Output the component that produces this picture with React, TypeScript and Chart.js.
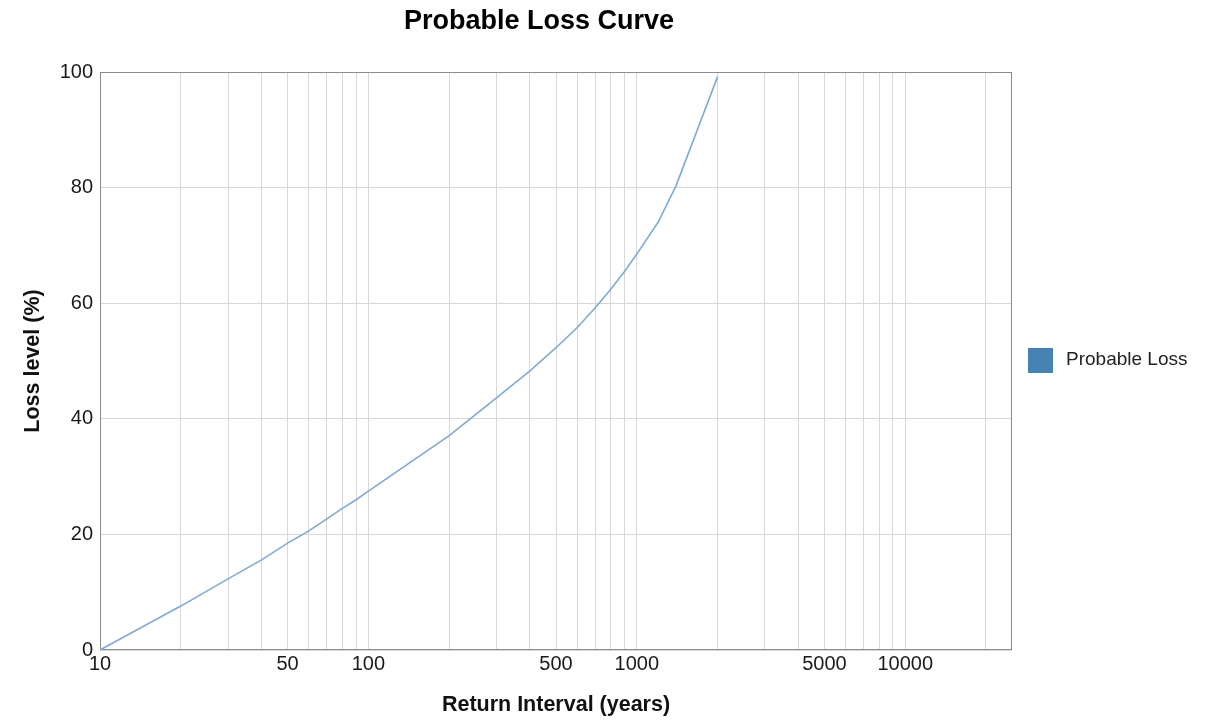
import React, { useEffect, useRef } from 'react';
import { Chart, registerables } from 'chart.js';

Chart.register(...registerables);

const chartTitle = 'Probable Loss Curve';
const xAxisTitle = 'Return Interval (years)';
const yAxisTitle = 'Loss level (%)';
const seriesName = 'Probable Loss';

const returnIntervals = [10, 20, 30, 40, 50, 60, 70, 80, 90, 100, 200, 300, 400, 500, 600, 700, 800, 900, 1000, 1200, 1400, 2000];
const lossLevels = [0, 7.6, 12.3, 15.6, 18.5, 20.6, 22.7, 24.5, 26.0, 27.5, 37.1, 43.6, 48.3, 52.3, 55.8, 59.2, 62.4, 65.5, 68.5, 74.0, 80.3, 99.2];

const xGridValues = [
  10, 20, 30, 40, 50, 60, 70, 80, 90,
  100, 200, 300, 400, 500, 600, 700, 800, 900,
  1000, 2000, 3000, 4000, 5000, 6000, 7000, 8000, 9000,
  10000, 20000,
];
const xTickLabels = [10, 50, 100, 500, 1000, 5000, 10000];
const xMin = 10;
const xMax = 25000;
const yMin = 0;
const yMax = 100;
const yStep = 20;

const FONT = '"Liberation Sans", Arial, sans-serif';
const LINE_COLOR = '#7eaad3';
const LEGEND_COLOR = '#4682b4';

export default function App() {
  const canvasRef = useRef<HTMLCanvasElement | null>(null);

  useEffect(() => {
    const canvas = canvasRef.current;
    if (!canvas) return;

    const titlePlugin = {
      id: 'customTitle',
      afterDraw(chart: any) {
        const ctx = chart.ctx;
        ctx.save();
        ctx.font = `bold 27px ${FONT}`;
        ctx.fillStyle = '#000';
        ctx.textAlign = 'center';
        ctx.textBaseline = 'middle';
        ctx.fillText(chartTitle, 539, 22);
        ctx.restore();
      },
    };

    const framePlugin = {
      id: 'frame',
      beforeDatasetsDraw(chart: any) {
        const { ctx, chartArea } = chart;
        ctx.save();
        ctx.strokeStyle = '#8c8c8c';
        ctx.lineWidth = 1;
        ctx.strokeRect(chartArea.left + 0.5, chartArea.top + 0.5, chartArea.right - chartArea.left - 1, chartArea.bottom - chartArea.top - 1);
        ctx.restore();
      },
    };

    const legendPlugin = {
      id: 'customLegend',
      afterDraw(chart: any) {
        const { ctx, chartArea } = chart;
        const cy = (chartArea.top + chartArea.bottom) / 2;
        const x = chartArea.right + 16;
        ctx.save();
        ctx.fillStyle = LEGEND_COLOR;
        ctx.fillRect(x, cy - 13, 25, 25);
        ctx.font = `19px ${FONT}`;
        ctx.fillStyle = '#222';
        ctx.textAlign = 'left';
        ctx.textBaseline = 'middle';
        ctx.fillText(seriesName, x + 38, cy - 1);
        ctx.restore();
      },
    };

    const chart = new Chart(canvas, {
      type: 'line',
      data: {
        datasets: [
          {
            label: seriesName,
            data: returnIntervals.map((x, i) => ({ x, y: lossLevels[i] })),
            borderColor: LINE_COLOR,
            backgroundColor: LEGEND_COLOR,
            borderWidth: 1.6,
            pointRadius: 0,
            tension: 0,
            fill: false,
          },
        ],
      },
      options: {
        animation: false,
        responsive: true,
        maintainAspectRatio: false,
        layout: { padding: { top: 72, right: 196, left: 0, bottom: 0 } },
        plugins: {
          legend: { display: false },
          title: { display: false },
          tooltip: { enabled: false },
        },
        scales: {
          x: {
            type: 'logarithmic',
            min: xMin,
            max: xMax,
            afterBuildTicks: (scale: any) => {
              scale.ticks = xGridValues.map((v) => ({ value: v }));
            },
            afterFit: (scale: any) => {
              scale.height = 71;
            },
            grid: { color: '#d8d8d8', lineWidth: 1, drawTicks: false },
            border: { display: false },
            ticks: {
              autoSkip: false,
              maxRotation: 0,
              minRotation: 0,
              padding: 2,
              color: '#1a1a1a',
              font: { family: FONT, size: 20 },
              callback: (value: any) => (xTickLabels.includes(Number(value)) ? String(value) : ''),
            },
            title: {
              display: true,
              text: xAxisTitle,
              color: '#111',
              font: { family: FONT, size: 21.5, weight: 'bold', lineHeight: 1.2 },
              padding: { top: 0, bottom: 3 },
            },
          },
          y: {
            type: 'linear',
            min: yMin,
            max: yMax,
            afterFit: (scale: any) => {
              scale.width = 100;
            },
            grid: { color: '#d8d8d8', lineWidth: 1, drawTicks: false },
            border: { display: false },
            ticks: {
              stepSize: yStep,
              padding: 7,
              color: '#1a1a1a',
              font: { family: FONT, size: 20 },
            },
            title: {
              display: true,
              text: yAxisTitle,
              color: '#111',
              font: { family: FONT, size: 21.5, weight: 'bold', lineHeight: 1.2 },
              padding: { top: 20, bottom: 0 },
            },
          },
        },
      },
      plugins: [framePlugin, titlePlugin, legendPlugin],
    } as any);

    return () => {
      chart.destroy();
    };
  }, []);

  return (
    <div style={{ position: 'fixed', left: 0, top: 0, width: 1208, height: 721, background: '#fff' }}>
      <canvas ref={canvasRef} />
    </div>
  );
}
